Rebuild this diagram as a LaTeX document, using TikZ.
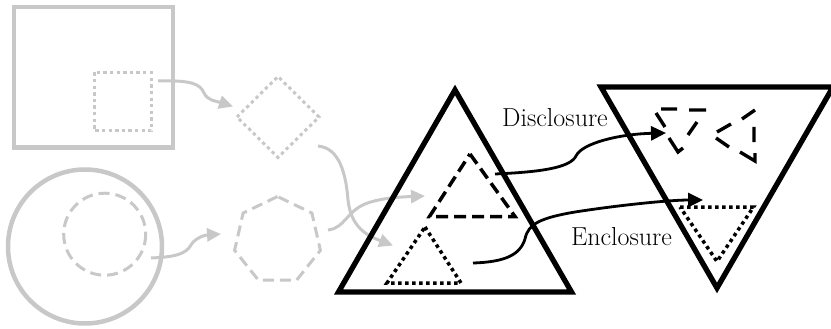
\documentclass[tikz,border=0pt]{standalone}
\usetikzlibrary{arrows.meta}
\definecolor{shade}{RGB}{200,200,200}
\tikzset{
  pale/.style={draw=shade, line width=4.5pt},
  paledots/.style={draw=shade, line width=3pt, dash pattern=on 3.3pt off 3.3pt},
  paledash/.style={draw=shade, line width=3pt, dash pattern=on 11pt off 6pt},
  paleflow/.style={draw=shade, line width=3pt, -{Triangle[length=14pt,width=13pt]}},
  heavy/.style={draw=black, line width=5.3pt, line join=miter},
  inkdash/.style={draw=black, line width=3.5pt, dash pattern=on 12pt off 6pt},
  inkdots/.style={draw=black, line width=3.5pt, dash pattern=on 3.5pt off 3.5pt},
  shard/.style={draw=black, line width=3.4pt},
  inkflow/.style={draw=black, line width=2.8pt, -{Triangle[length=15pt,width=14pt]}},
  caption/.style={font=\fontsize{26}{30}\selectfont, inner sep=0pt, anchor=base},
}
\begin{document}
\begin{tikzpicture}[x=1pt,y=-1pt]
\useasboundingbox (0,0) rectangle (831,329);

% ---- pale sources: square with dotted square, circle with dashed circle
\draw[pale] (14,7) rectangle (173,147.5);
\draw[paledots] (94.5,72.5) rectangle (151,131);
\draw[pale] (85,246.5) circle[radius=77];
\draw[paledash] (104.7,234.2) circle[radius=41];

% ---- pale intermediates: dotted diamond, dashed heptagon
\draw[paledots] (237,117) -- (278,76.5) -- (319,117) -- (278,157.5) -- cycle;
\draw[paledash] plot[samples at={0,...,6}]
  ({277.5+44*cos(90+\x*360/7)},{240.5-44*sin(90+\x*360/7)}) -- cycle;

% ---- end points of the pale connectors
\coordinate (sqout) at (158,81);
\coordinate (dmin)  at (233,106.5);
\coordinate (ciout) at (151,258);
\coordinate (hpin)  at (221,234);
\coordinate (dmout) at (318,146);
\coordinate (dotin) at (393,245.5);
\coordinate (hpout) at (328,230);
\coordinate (dshin) at (425,196);

\draw[paleflow] (sqout) .. controls (192,80) and (200,84) .. (204,93)
                        .. controls (208,101) and (216,101) .. (dmin);
\draw[paleflow] (ciout) .. controls (175,257) and (186,254) .. (191,245)
                        .. controls (195,238) and (205,235) .. (hpin);
\draw[paleflow] (dmout) .. controls (340,148) and (346,175) .. (348,200)
                        .. controls (351,228) and (368,236) .. (dotin);
\draw[paleflow] (hpout) .. controls (345,228) and (346,212) .. (365,204)
                        .. controls (380,198) and (400,197) .. (dshin);

% ---- upright triangle with dashed and dotted inner triangles
\draw[heavy] (455,90) -- (571.5,292) -- (338.5,292) -- cycle;
\draw[inkdash] (470,154) -- (515,216.5) -- (429.5,216.5) -- cycle;
\draw[inkdots] (425,227) -- (461,283) -- (387,283) -- cycle;

% ---- inverted triangle with scattered dashes and a dotted inner triangle
\draw[heavy] (601,87) -- (833,87) -- (717,288) -- cycle;
\draw[inkdots] (680,207) -- (753.5,207) -- (717,261.5) -- cycle;
\draw[shard] (661,109) -- (677,109)
             (689,110) -- (706,110)
             (656,113) -- (665,127)
             (697,122) -- (688,135)
             (669,138) -- (678,152) -- (683,148);
\draw[shard] (755,110) -- (742,119)
             (731,124) -- (717,132)
             (716,138) -- (729,147)
             (754,127) -- (754,142)
             (740,152) -- (755,161) -- (755,153);

% ---- labelled connectors
\coordinate (dshout) at (495,174);
\coordinate (shards) at (666,133);
\coordinate (dotout) at (473,263);
\coordinate (dotdst) at (703,200);

\draw[inkflow] (dshout) .. controls (540,172) and (570,168) .. (576,156)
                        .. controls (582,143) and (620,134) .. (shards);
\draw[inkflow] (dotout) .. controls (505,262) and (520,255) .. (525,239)
                        .. controls (528,224) and (540,218) .. (575,212)
                        .. controls (620,205) and (670,200) .. (dotdst);

\node[caption] (disc) at (555,127) {Disclosure};
\node[caption] (encl) at (621.5,245.5) {Enclosure};
\end{tikzpicture}
\end{document}
